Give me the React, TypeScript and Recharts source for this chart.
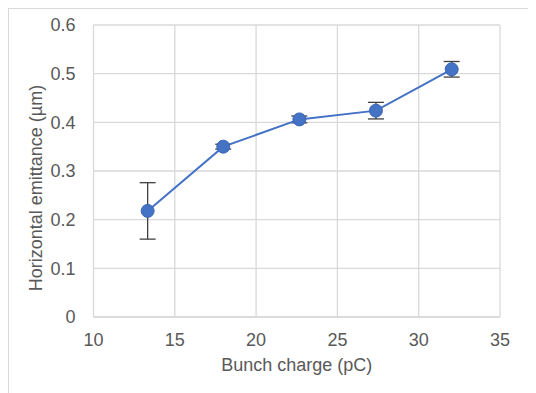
import React from 'react';
import { ScatterChart, Scatter, XAxis, YAxis, CartesianGrid, ErrorBar } from 'recharts';

const charges = [13.33, 17.98, 22.66, 27.37, 32.03];
const emittance = [0.218, 0.35, 0.406, 0.424, 0.509];
const errors = [0.058, 0.005, 0.007, 0.017, 0.016];

const xTicks = [10, 15, 20, 25, 30, 35];
const yTicks = [0, 0.1, 0.2, 0.3, 0.4, 0.5, 0.6];

const data = charges.map((x, i) => ({ x, y: emittance[i], err: errors[i] }));

const BLUE = '#4472c4';
const GRID = '#d9d9d9';
const TEXT = '#595959';

const Dot = (props: any) => {
  const { cx, cy } = props;
  return <circle cx={cx} cy={cy} r={6.5} fill={BLUE} stroke="#3b66b5" strokeWidth={1} />;
};

// rotated y title, placed a bit lower than the plot centre like the original
const YTitle = (props: any) => {
  const { viewBox } = props;
  const cx = 27;
  const cy = viewBox.y + viewBox.height / 2 + 17;
  return (
    <text
      x={cx}
      y={cy}
      transform={`rotate(-90, ${cx}, ${cy})`}
      textAnchor="middle"
      dominantBaseline="central"
      fill={TEXT}
      fontSize={18}
    >
      Horizontal emittance (µm)
    </text>
  );
};

const App: React.FC = () => {
  return (
    <div
      style={{
        width: 527,
        height: 385,
        borderTop: `1px solid ${GRID}`,
        borderLeft: `1px solid ${GRID}`,
        boxSizing: 'border-box',
        fontFamily: '"Liberation Sans", Arial, sans-serif',
        overflow: 'hidden',
      }}
    >
      <ScatterChart
        width={519}
        height={376}
        margin={{ top: 16, right: 28, left: 24.5, bottom: 8 }}
      >
        <CartesianGrid stroke={GRID} strokeWidth={1.3} />
        <XAxis
          type="number"
          dataKey="x"
          domain={[10, 35]}
          ticks={xTicks}
          height={60}
          axisLine={{ stroke: GRID, strokeWidth: 1.3 }}
          tickLine={false}
          tick={{ fill: TEXT, fontSize: 18 }}
          tickMargin={10}
          label={{ value: 'Bunch charge (pC)', position: 'insideBottom', offset: 6, fill: TEXT, fontSize: 18 }}
        />
        <YAxis
          type="number"
          dataKey="y"
          domain={[0, 0.6]}
          ticks={yTicks}
          width={60}
          axisLine={false}
          tickLine={false}
          tick={{ fill: TEXT, fontSize: 18 }}
          tickMargin={12}
          label={<YTitle />}
        />
        <Scatter
          data={data}
          line={{ stroke: BLUE, strokeWidth: 2 }}
          lineType="joint"
          shape={Dot}
          isAnimationActive={false}
        >
          <ErrorBar dataKey="err" direction="y" width={8} stroke="#404040" strokeWidth={1.3} />
        </Scatter>
      </ScatterChart>
    </div>
  );
};

export default App;
